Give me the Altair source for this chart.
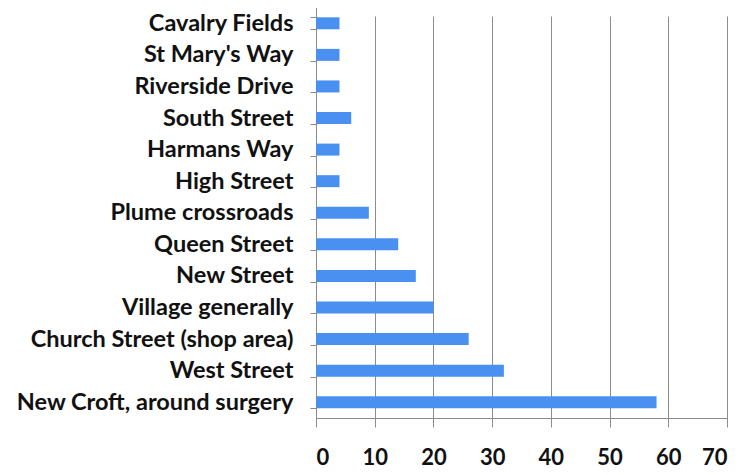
import altair as alt
import pandas as pd

categories = ["Cavalry Fields", "St Mary's Way", "Riverside Drive", "South Street",
              "Harmans Way", "High Street", "Plume crossroads", "Queen Street",
              "New Street", "Village generally", "Church Street (shop area)",
              "West Street", "New Croft, around surgery"]
values = [4, 4, 4, 6, 4, 4, 9, 14, 17, 20, 26, 32, 58]
x_ticks = [0, 10, 20, 30, 40, 50, 60, 70]

df = pd.DataFrame({"place": categories, "count": values})

chart = alt.Chart(df).mark_bar(color="#4a90f0").encode(
    x=alt.X("count:Q",
            scale=alt.Scale(domain=[0, 70], nice=False),
            axis=alt.Axis(values=x_ticks, title=None, grid=True, gridColor="#8c8c8c",
                          gridWidth=1, domainColor="#8c8c8c", tickColor="#8c8c8c",
                          tickSize=9, labelPadding=20, labelFont="Lato",
                          labelFontWeight="bold", labelFontSize=22, labelColor="#111111")),
    y=alt.Y("place:N", sort=categories,
            scale=alt.Scale(paddingInner=0.62, paddingOuter=0.31, range=[-8.5, 402]),
            axis=alt.Axis(title=None, grid=False, tickBand="extent", tickSize=6,
                          tickColor="#8c8c8c", domainColor="#8c8c8c",
                          labelPadding=17, labelFont="Lato", labelFontWeight="bold",
                          labelFontSize=23.5, labelColor="#111111", labelLimit=400)),
).properties(
    width=411, height=402,
    autosize=alt.AutoSizeParams(type="none"),
    padding={"left": 308, "top": 8, "right": 6, "bottom": 56},
).configure_view(stroke=None)

chart.save("out.html", embed_options={"renderer": "svg", "actions": False})
